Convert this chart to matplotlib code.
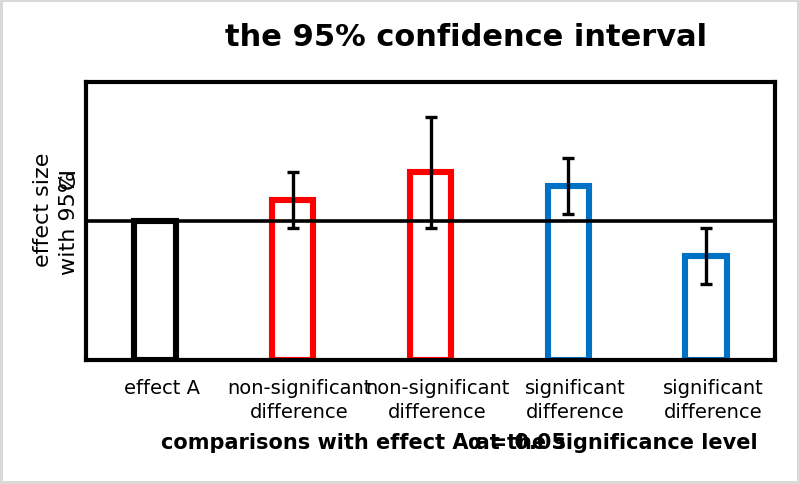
import numpy as np
from matplotlib import pyplot as plt

categories = ['effect A', 'non-significant\ndifference', 'non-significant\ndifference',
              'significant\ndifference', 'significant\ndifference']
effects = [1.0, 1.15, 1.35, 1.25, 0.75]
ci_half = [0.0, 0.2, 0.4, 0.2, 0.2]
colors = ['black', '#ff0000', '#ff0000', '#0072c6', '#0072c6']
reference = effects[0]

fig = plt.figure(figsize=(8, 4.85), dpi=100)
fig.patch.set_edgecolor('#d9d9d9')
fig.patch.set_linewidth(4)
ax = fig.add_axes([86 / 800, 1 - 361 / 485, 689 / 800, 278 / 485])

pos = np.arange(len(effects))
ax.bar(pos, effects, width=0.3, facecolor='white', edgecolor=colors, linewidth=4.4, zorder=2)
ax.axhline(reference, color='black', linewidth=2.6, zorder=3)
ax.errorbar(pos[1:], effects[1:], yerr=ci_half[1:], fmt='none', ecolor='black',
            elinewidth=2.4, capsize=4.5, capthick=2.4, zorder=4)

ax.set_xlim(-0.5, 4.5)
ax.set_ylim(0, 2)
ax.set_yticks([])
ax.set_xticks(pos + 0.05)
ax.set_xticklabels(categories, fontsize=14, linespacing=1.35)
ax.tick_params(axis='x', length=0, pad=13)
for s in ax.spines.values():
	s.set_linewidth(3)

fig.text(466 / 800, 1 - 46 / 485, 'the 95% confidence interval', fontsize=22,
         fontweight='bold', ha='center', va='baseline')

# x label: the alpha part overprints the plain text, as in the source
fig.text(161 / 800, 1 - 443 / 485, 'comparisons with effect A at the significance level',
         fontsize=15, fontweight='bold', ha='left', va='center')
fig.text(468 / 800, 1 - 443 / 485, 'α = 0.05', fontsize=15, fontweight='bold',
         ha='left', va='center')

# y label, with "CI" overprinting "95%"
fig.text(43 / 800, 1 - 210 / 485, 'effect size', fontsize=16, rotation=90,
         ha='center', va='center')
fig.text(69 / 800, 1 - 275 / 485, 'with 95%', fontsize=16, rotation=90,
         ha='center', va='bottom')
fig.text(69 / 800, 1 - 167 / 485, 'CI', fontsize=16, rotation=90,
         ha='center', va='top')

plt.savefig('out.png', dpi=100)
